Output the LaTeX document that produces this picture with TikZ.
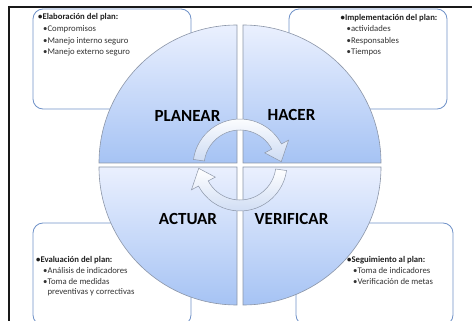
\documentclass[tikz,border=0pt]{standalone}
\usepackage{fontspec}
\setmainfont{Carlito}
\usepackage{tikz}

\definecolor{qtop}{RGB}{234,240,254}
\definecolor{qbot}{RGB}{166,195,244}
\definecolor{qline}{RGB}{140,150,168}
\definecolor{boxline}{RGB}{112,146,200}
\definecolor{arrowblue}{RGB}{205,219,243}

\tikzset{
  quad/.style={top color=qtop, bottom color=qbot, draw=qline, line width=0.6pt},
  planbox/.style={draw=boxline, fill=white, line width=0.8pt, rounded corners=10pt,
    minimum width=158pt, inner sep=0pt},
  head/.style={anchor=base west, inner sep=0pt, text=black!88,
    font=\fontsize{8.7}{10}\selectfont\bfseries},
  item/.style={anchor=base west, inner sep=0pt, text=black!80,
    font=\fontsize{8.7}{10}\selectfont},
  phase/.style={anchor=base, inner sep=0pt, font=\fontsize{17}{20}\selectfont\bfseries},
  turnarrow/.pic={
    \draw[top color=white, bottom color=arrowblue, draw=qline, line width=0.5pt]
      (-172:47) arc[start angle=-172, end angle=-28, radius=47] -- (-28:55)
      -- (-6:41.5) -- (-28:28) -- (-28:36)
      arc[start angle=-28, end angle=-172, radius=36] -- cycle;
  }
}

\begin{document}
\begin{tikzpicture}[x=1pt, y=-1pt]
  \useasboundingbox (0,0) rectangle (472,321);
  \clip (0,0) rectangle (472,321);

  \node[planbox, minimum height=100pt] (elabbox) at (112,59) {};
  \node[planbox, minimum height=100pt] (implbox) at (368,59) {};
  \node[planbox, minimum height=102pt] (evalbox) at (112,274) {};
  \node[planbox, minimum height=102pt, minimum width=157pt] (seguibox) at (374.5,274) {};

  \path[quad] (237,163) -- ++(-138,0) arc[start angle=180, end angle=270, radius=138] -- cycle;
  \path[quad] (243,163) -- ++(0,-138) arc[start angle=270, end angle=360, radius=138] -- cycle;
  \path[quad] (243,167) -- ++(138,0) arc[start angle=0, end angle=90, radius=138] -- cycle;
  \path[quad] (237,167) -- ++(0,138) arc[start angle=90, end angle=180, radius=138] -- cycle;

  \pic at (240,166) {turnarrow};
  \pic[rotate=180] at (240,164) {turnarrow};

  \node[phase] (planear) at (187.5,121.7) {PLANEAR};
  \node[phase] (hacer) at (291.5,120.7) {HACER};
  \node[phase] (actuar) at (188,224) {ACTUAR};
  \node[phase] (verificar) at (291.5,224) {VERIFICAR};

  \node[head] (elab) at (38,20) {•Elaboración del plan:};
  \node[item] (elab1) at (43,31.8) {•Compromisos};
  \node[item] (elab2) at (43,43.5) {•Manejo interno seguro};
  \node[item] (elab3) at (43,55) {•Manejo externo seguro};

  \node[head] (impl) at (340.5,21) {•Implementación del plan:};
  \node[item] (impl1) at (346.5,32) {•actividades};
  \node[item] (impl2) at (346.5,43.7) {•Responsables};
  \node[item] (impl3) at (346.5,54.7) {•Tiempos};

  \node[head] (eval) at (36,262.3) {•Evaluación del plan:};
  \node[item] (eval1) at (43,273.2) {•Análisis de indicadores};
  \node[item] (eval2) at (43,284.7) {•Toma de medidas};
  \node[item] (eval3) at (43,294.7) {\phantom{•}preventivas y correctivas};

  \node[head] (segui) at (347,262.3) {•Seguimiento al plan:};
  \node[item] (segui1) at (353,273.2) {•Toma de indicadores};
  \node[item] (segui2) at (353,284.7) {•Verificación de metas};

  \draw[black!90, line width=2pt] (8,7) -- (472,7);
  \draw[black!90, line width=2pt] (9,6) -- (9,321);
\end{tikzpicture}
\end{document}
